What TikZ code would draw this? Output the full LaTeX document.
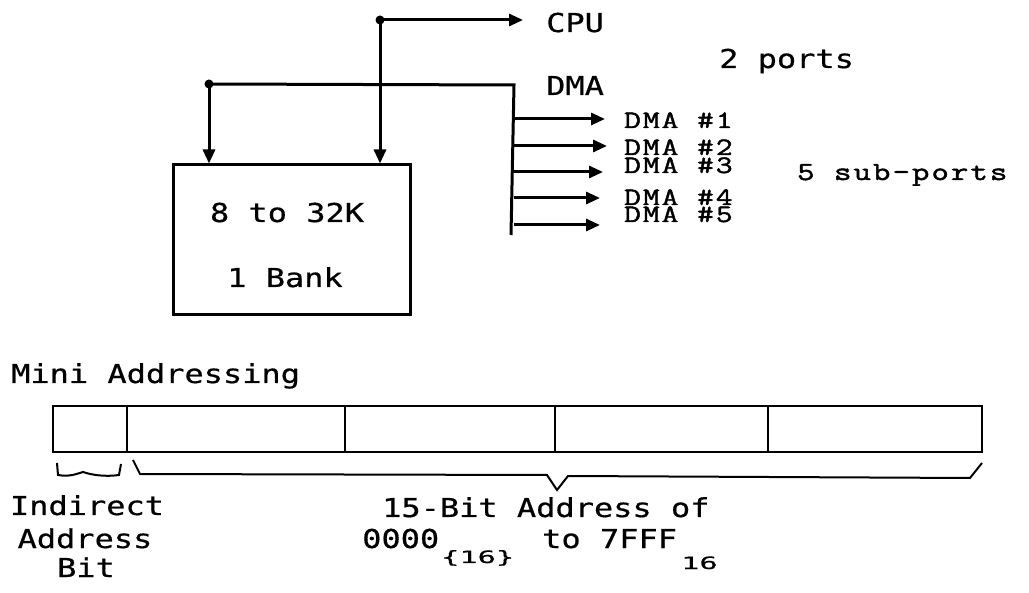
\documentclass[tikz,border=0pt]{standalone}
\usepackage{fontspec}
\usetikzlibrary{arrows.meta}
\newfontfamily\plotfont[FakeStretch=1.23,FakeBold=0.6]{DejaVu Sans Mono}
\newfontfamily\courfont[FakeStretch=1.3,LetterSpace=8,FakeBold=1.8]{Latin Modern Mono}
\begin{document}
\begin{tikzpicture}[x=1pt,y=-1pt,
  wire/.style={line width=3pt},
  tip/.style={-{Triangle[length=14pt,width=12pt]}},
  pl/.style={font=\plotfont\fontsize{26}{30}\selectfont, inner sep=0pt, anchor=base west},
  plsub/.style={font=\plotfont\fontsize{17}{20}\selectfont, inner sep=0pt, anchor=base west},
  cr/.style={font=\courfont\fontsize{25}{28}\selectfont, inner sep=0pt, anchor=base west},
  crbig/.style={font=\courfont\fontsize{26}{29}\selectfont, inner sep=0pt, anchor=base west},
  jdot/.style={circle,fill,inner sep=0pt,minimum size=9pt},
  reg/.style={line width=2.4pt}]
\fill[white] (0,0) rectangle (1029,593);
\useasboundingbox (0,0) rectangle (1029,593);

% memory box
\node[draw, line width=3pt, minimum width=237pt, minimum height=150pt, inner sep=0pt] (mem) at (291.5,240) {};
\node[pl, anchor=base] (size) at (287,222) {8 to 32K};
\node[pl, anchor=base] (bank) at (285,287) {1 Bank};

% CPU port
\node[jdot] (cpuj) at (380,20) {};
\node[pl] (cpu) at (546,32) {CPU};
\draw[wire,tip,shorten >=23pt] (cpuj.center) -- (cpuj -| cpu.west);
\draw[wire,tip] (cpuj.center) -- (cpuj |- mem.north);

% DMA port
\node[jdot] (dmaj) at (209,84) {};
\node[pl] (dma) at (546,95) {DMA};
\coordinate (bustop) at (514,85);
\coordinate (busbot) at (511,235);
\draw[wire,tip] (dmaj.center) -- (dmaj |- mem.north);
\draw[wire] (dmaj.center) -- (bustop) -- (busbot);

\node[pl] (ports) at (719,68) {2 ports};

% DMA sub-ports
\coordinate (a1) at (605,119);
\coordinate (a2) at (607,146);
\coordinate (a3) at (603,172);
\coordinate (a4) at (600,198);
\coordinate (a5) at (600,225);
\foreach \i in {1,...,5} {\draw[wire,tip] (a\i -| bustop) -- (a\i);}
\node[cr] (d1) at (624,128) {DMA \#1};
\node[cr] (d2) at (624,155) {DMA \#2};
\node[cr] (d3) at (624,173) {DMA \#3};
\node[cr] (d4) at (624,205) {DMA \#4};
\node[cr] (d5) at (624,222) {DMA \#5};
\node[crbig] (sub) at (797,180) {5 sub-ports};

% Mini addressing word
\node[pl] (mini) at (11,383) {Mini Addressing};
\draw[reg] (53,406) rectangle (982,452);
\foreach \x in {127,345,555,768} {\draw[reg] (\x,406) -- (\x,452);}

% braces
\draw[line width=2pt] (57,463) -- (58,475) .. controls (70,477) and (76,474) .. (83,472)
   .. controls (92,475) and (105,477) .. (119,475) -- (121,464);
\draw[line width=2pt] (133,460) -- (140,474) -- (547,475) -- (557,490) -- (568,476) -- (970,478) -- (982,463);

% labels below
\node[pl, anchor=base] (ind1) at (87,515) {Indirect};
\node[pl, anchor=base] (ind2) at (85,548) {Address};
\node[pl, anchor=base] (ind3) at (86,577) {Bit};

\node[pl] (addr) at (382,517) {15-Bit Address of};
\node[pl] (lo) at (362,548) {0000};
\node[plsub] (losub) at (441,563) {\scalebox{1.45}[1]{\{16\}}};
\node[pl] (hi) at (542,548) {to 7FFF};
\node[plsub] (hisub) at (681,569) {\scalebox{1.45}[1]{16}};
\end{tikzpicture}
\end{document}
